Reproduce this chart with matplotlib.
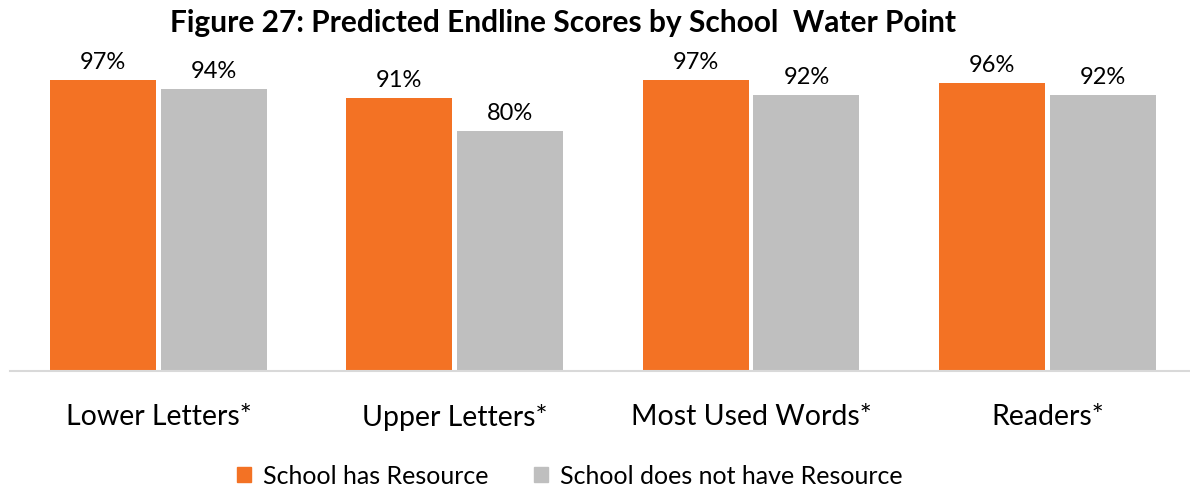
import numpy as np
import matplotlib.pyplot as plt
from matplotlib.patches import Patch

categories = ['Lower Letters*', 'Upper Letters*', 'Most Used Words*', 'Readers*']
has_resource = [97, 91, 97, 96]
no_resource = [94, 80, 92, 92]
series_names = ['School has Resource', 'School does not have Resource']

orange = '#F37224'
grey = '#BFBFBF'

plt.rcParams['font.family'] = ['Lato', 'DejaVu Sans']

W, H = 1190, 491
fig = plt.figure(figsize=(W / 100, H / 100), dpi=100)
# axes box in pixels: left 10, baseline at y=370, top at y=71
ax = fig.add_axes([10.4 / W, (H - 370.5) / H, 1185 / W, 299.5 / H])

x = np.arange(len(categories))
bw = 0.358
off = 0.187
b1 = ax.bar(x - off, has_resource, bw, color=orange)
b2 = ax.bar(x + off, no_resource, bw, color=grey)

for bars, vals in ((b1, has_resource), (b2, no_resource)):
    for rect, v in zip(bars, vals):
        ax.annotate(f'{v}%', (rect.get_x() + rect.get_width() / 2, v),
                    xytext=(0, 5), textcoords='offset points',
                    ha='center', va='bottom', fontsize=17, color='black')

ax.set_xlim(-0.5, len(categories) - 0.5)
ax.set_ylim(0, 100)
ax.set_yticks([])
ax.set_xticks(x)
ax.set_xticklabels(categories, fontsize=20.5)
ax.tick_params(axis='x', length=0, pad=24)
for s in ['top', 'right', 'left']:
    ax.spines[s].set_visible(False)
ax.spines['bottom'].set_color('#D9D9D9')
ax.spines['bottom'].set_linewidth(1.5)

fig.text(563 / W, 1 - 23 / H, 'Figure 27: Predicted Endline Scores by School  Water Point',
         ha='center', va='center', fontsize=21.5, fontweight='bold')

handles = [Patch(color=orange), Patch(color=grey)]
fig.legend(handles, series_names, loc='center', bbox_to_anchor=(570 / W, 1 - 476 / H),
           ncol=2, frameon=False, fontsize=18, handlelength=0.55, handleheight=0.55,
           handletextpad=0.5, columnspacing=1.8)

fig.savefig('out.png', dpi=100)
